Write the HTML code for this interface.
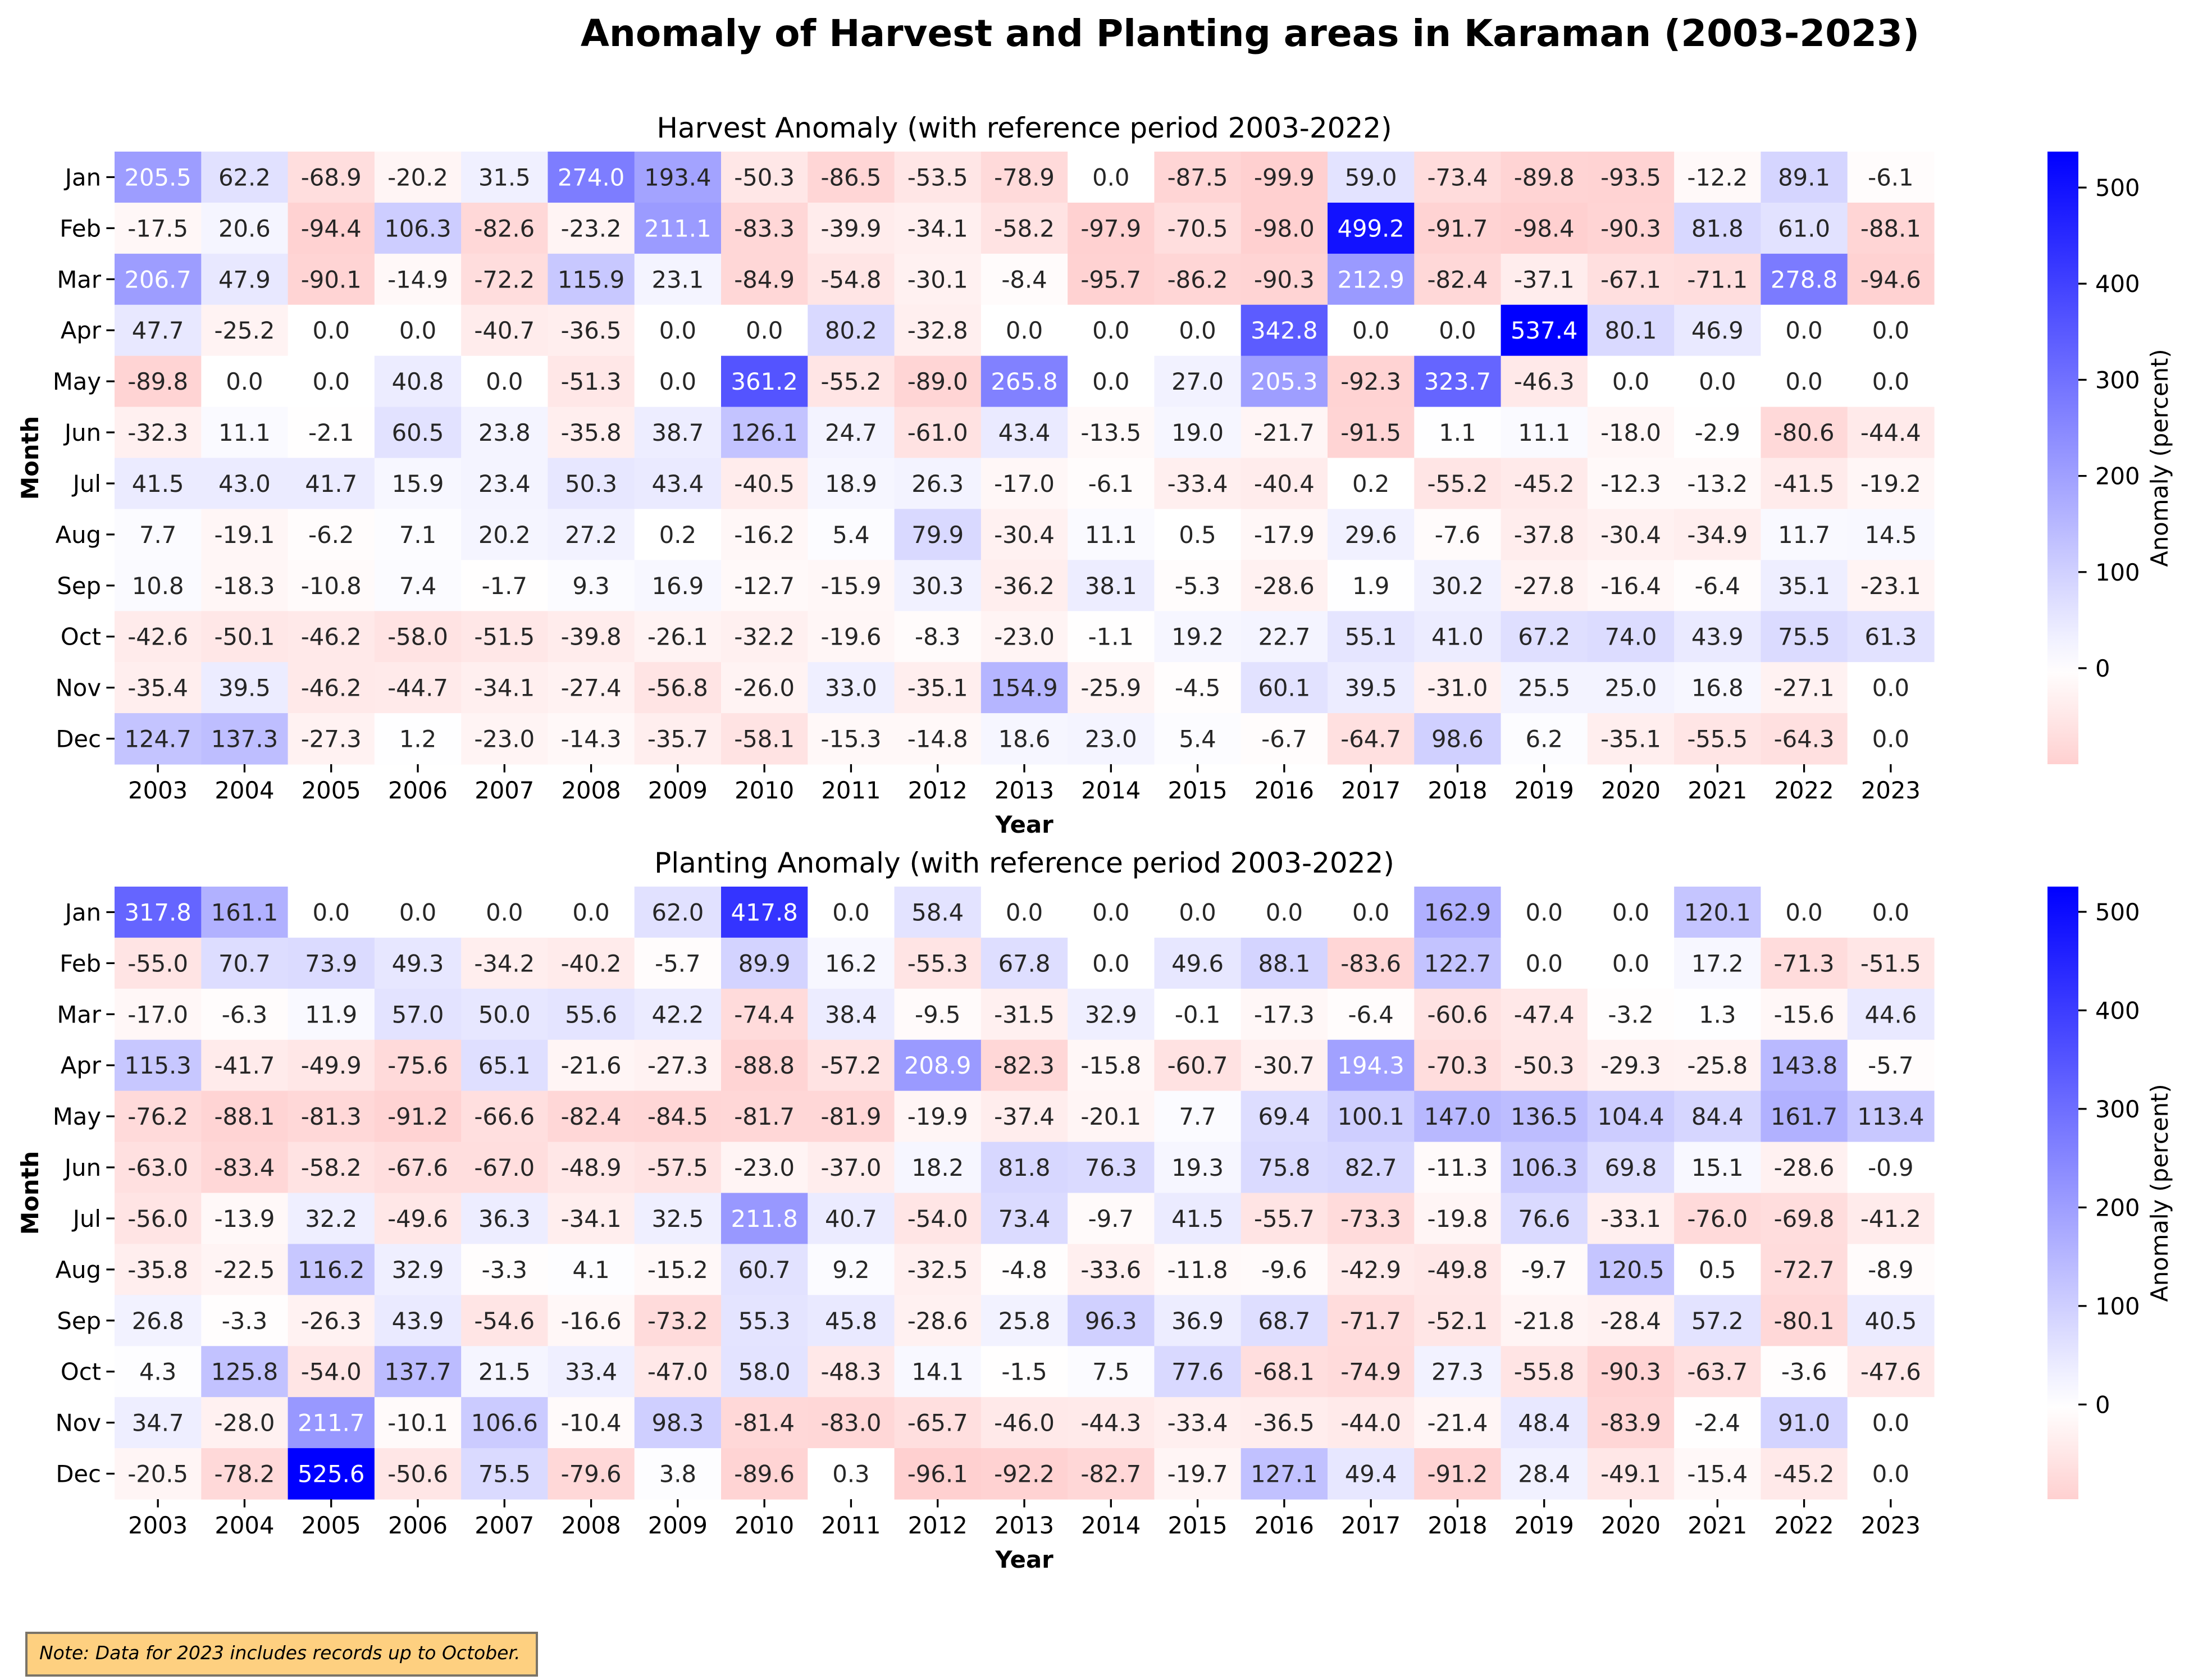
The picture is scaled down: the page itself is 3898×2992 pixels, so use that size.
<!DOCTYPE html>
<html><head><meta charset="utf-8"><style>
html,body{margin:0;padding:0;background:#fff;}
svg{display:block;font-family:"DejaVu Sans","Liberation Sans",sans-serif;}
</style></head><body>
<svg id="chart" width="3898" height="2992" viewBox="0 0 3898 2992" xmlns="http://www.w3.org/2000/svg">
<rect width="3898" height="2992" fill="#fff"/>
<text x="2226" y="82" font-size="66" font-weight="bold" text-anchor="middle">Anomaly of Harvest and Planting areas in Karaman (2003-2023)</text>
<g id="root"></g>
<g>
<rect x="47" y="2908" width="909" height="76" fill="#fed080" stroke="#7a7468" stroke-width="4"/>
<text x="70" y="2955" font-size="33" font-style="italic">Note: Data for 2023 includes records up to October.</text>
</g>
</svg>
<script>
const years = ["2003","2004","2005","2006","2007","2008","2009","2010","2011","2012","2013","2014","2015","2016","2017","2018","2019","2020","2021","2022","2023"];
const months = ["Jan","Feb","Mar","Apr","May","Jun","Jul","Aug","Sep","Oct","Nov","Dec"];
const cbTicks = [0,100,200,300,400,500];
const harvest = [
[205.5,62.2,-68.9,-20.2,31.5,274.0,193.4,-50.3,-86.5,-53.5,-78.9,0.0,-87.5,-99.9,59.0,-73.4,-89.8,-93.5,-12.2,89.1,-6.1],
[-17.5,20.6,-94.4,106.3,-82.6,-23.2,211.1,-83.3,-39.9,-34.1,-58.2,-97.9,-70.5,-98.0,499.2,-91.7,-98.4,-90.3,81.8,61.0,-88.1],
[206.7,47.9,-90.1,-14.9,-72.2,115.9,23.1,-84.9,-54.8,-30.1,-8.4,-95.7,-86.2,-90.3,212.9,-82.4,-37.1,-67.1,-71.1,278.8,-94.6],
[47.7,-25.2,0.0,0.0,-40.7,-36.5,0.0,0.0,80.2,-32.8,0.0,0.0,0.0,342.8,0.0,0.0,537.4,80.1,46.9,0.0,0.0],
[-89.8,0.0,0.0,40.8,0.0,-51.3,0.0,361.2,-55.2,-89.0,265.8,0.0,27.0,205.3,-92.3,323.7,-46.3,0.0,0.0,0.0,0.0],
[-32.3,11.1,-2.1,60.5,23.8,-35.8,38.7,126.1,24.7,-61.0,43.4,-13.5,19.0,-21.7,-91.5,1.1,11.1,-18.0,-2.9,-80.6,-44.4],
[41.5,43.0,41.7,15.9,23.4,50.3,43.4,-40.5,18.9,26.3,-17.0,-6.1,-33.4,-40.4,0.2,-55.2,-45.2,-12.3,-13.2,-41.5,-19.2],
[7.7,-19.1,-6.2,7.1,20.2,27.2,0.2,-16.2,5.4,79.9,-30.4,11.1,0.5,-17.9,29.6,-7.6,-37.8,-30.4,-34.9,11.7,14.5],
[10.8,-18.3,-10.8,7.4,-1.7,9.3,16.9,-12.7,-15.9,30.3,-36.2,38.1,-5.3,-28.6,1.9,30.2,-27.8,-16.4,-6.4,35.1,-23.1],
[-42.6,-50.1,-46.2,-58.0,-51.5,-39.8,-26.1,-32.2,-19.6,-8.3,-23.0,-1.1,19.2,22.7,55.1,41.0,67.2,74.0,43.9,75.5,61.3],
[-35.4,39.5,-46.2,-44.7,-34.1,-27.4,-56.8,-26.0,33.0,-35.1,154.9,-25.9,-4.5,60.1,39.5,-31.0,25.5,25.0,16.8,-27.1,0.0],
[124.7,137.3,-27.3,1.2,-23.0,-14.3,-35.7,-58.1,-15.3,-14.8,18.6,23.0,5.4,-6.7,-64.7,98.6,6.2,-35.1,-55.5,-64.3,0.0]];
const planting = [
[317.8,161.1,0.0,0.0,0.0,0.0,62.0,417.8,0.0,58.4,0.0,0.0,0.0,0.0,0.0,162.9,0.0,0.0,120.1,0.0,0.0],
[-55.0,70.7,73.9,49.3,-34.2,-40.2,-5.7,89.9,16.2,-55.3,67.8,0.0,49.6,88.1,-83.6,122.7,0.0,0.0,17.2,-71.3,-51.5],
[-17.0,-6.3,11.9,57.0,50.0,55.6,42.2,-74.4,38.4,-9.5,-31.5,32.9,-0.1,-17.3,-6.4,-60.6,-47.4,-3.2,1.3,-15.6,44.6],
[115.3,-41.7,-49.9,-75.6,65.1,-21.6,-27.3,-88.8,-57.2,208.9,-82.3,-15.8,-60.7,-30.7,194.3,-70.3,-50.3,-29.3,-25.8,143.8,-5.7],
[-76.2,-88.1,-81.3,-91.2,-66.6,-82.4,-84.5,-81.7,-81.9,-19.9,-37.4,-20.1,7.7,69.4,100.1,147.0,136.5,104.4,84.4,161.7,113.4],
[-63.0,-83.4,-58.2,-67.6,-67.0,-48.9,-57.5,-23.0,-37.0,18.2,81.8,76.3,19.3,75.8,82.7,-11.3,106.3,69.8,15.1,-28.6,-0.9],
[-56.0,-13.9,32.2,-49.6,36.3,-34.1,32.5,211.8,40.7,-54.0,73.4,-9.7,41.5,-55.7,-73.3,-19.8,76.6,-33.1,-76.0,-69.8,-41.2],
[-35.8,-22.5,116.2,32.9,-3.3,4.1,-15.2,60.7,9.2,-32.5,-4.8,-33.6,-11.8,-9.6,-42.9,-49.8,-9.7,120.5,0.5,-72.7,-8.9],
[26.8,-3.3,-26.3,43.9,-54.6,-16.6,-73.2,55.3,45.8,-28.6,25.8,96.3,36.9,68.7,-71.7,-52.1,-21.8,-28.4,57.2,-80.1,40.5],
[4.3,125.8,-54.0,137.7,21.5,33.4,-47.0,58.0,-48.3,14.1,-1.5,7.5,77.6,-68.1,-74.9,27.3,-55.8,-90.3,-63.7,-3.6,-47.6],
[34.7,-28.0,211.7,-10.1,106.6,-10.4,98.3,-81.4,-83.0,-65.7,-46.0,-44.3,-33.4,-36.5,-44.0,-21.4,48.4,-83.9,-2.4,91.0,0.0],
[-20.5,-78.2,525.6,-50.6,75.5,-79.6,3.8,-89.6,0.3,-96.1,-92.2,-82.7,-19.7,127.1,49.4,-91.2,28.4,-49.1,-15.4,-45.2,0.0]];

const NS="http://www.w3.org/2000/svg";
function mk(tag, attrs, parent){const e=document.createElementNS(NS,tag);for(const k in attrs)e.setAttribute(k,attrs[k]);if(parent)parent.appendChild(e);return e;}
function colorRGB(v, vr){
  if(v>=0){const t=Math.min(v/vr,1);const c=255*(1-t);return [c,c,255];}
  const t=Math.min(-v/vr,1);const c=255*(1-t);return [255,c,c];
}
function lum(rgb){const f=x=>{x/=255;return x<=0.03928?x/12.92:Math.pow((x+0.055)/1.055,2.4);};return 0.2126*f(rgb[0])+0.7152*f(rgb[1])+0.0722*f(rgb[2]);}
const root=document.getElementById('root');
const L=204,R=3444,CW=(R-L)/years.length;
function panel(data, top, title, name){
  const H=1091, CH=H/months.length;
  const g=mk('g',{},root);
  
  
  const flat=data.flat();
  const vmin=Math.min(...flat), vmax=Math.max(...flat);
  const vr=Math.max(vmax,-vmin);
  const x=i=>L+i*CW, y=j=>top+j*CH;
  const t=mk('text',{x:(L+R)/2,y:top-25,'font-size':50,'text-anchor':'middle'},g);
  t.textContent=title;
  
  
  data.forEach((row,j)=>row.forEach((v,i)=>{
    const c=colorRGB(v,vr);
    const r=mk('rect',{x:x(i),y:y(j),width:CW+0.6,height:CH+0.6,fill:`rgb(${c.map(Math.round).join(',')})`},g);
    
    
    const tx=mk('text',{x:x(i)+CW/2,y:y(j)+CH/2+15,'font-size':41.7,'text-anchor':'middle',fill:lum(c)<0.408?'#fff':'#262626'},g);
    tx.textContent=v.toFixed(1);
    
    
  }));
  months.forEach((m,j)=>{
    mk('line',{x1:L-14.6,x2:L,y1:y(j)+CH/2,y2:y(j)+CH/2,stroke:'#000','stroke-width':3.3},g);
    const tl=mk('text',{x:L-24,y:y(j)+CH/2+15,'font-size':41.7,'text-anchor':'end'},g);
    tl.textContent=m;
    
    
  });
  years.forEach((yr,i)=>{
    mk('line',{x1:x(i)+CW/2,x2:x(i)+CW/2,y1:top+H,y2:top+H+14.6,stroke:'#000','stroke-width':3.3},g);
    const tl=mk('text',{x:x(i)+CW/2,y:top+H+61,'font-size':41.7,'text-anchor':'middle'},g);
    tl.textContent=yr;
    
    
  });
  const xl=mk('text',{x:(L+R)/2,y:top+H+122,'font-size':41.7,'font-weight':'bold','text-anchor':'middle'},g);
  xl.textContent='Year';
  
  
  const yl=mk('text',{x:0,y:0,'font-size':41.7,'font-weight':'bold','text-anchor':'middle',transform:`translate(68,${top+H/2}) rotate(-90)`},g);
  yl.textContent='Month';
  
  
  const cbx=3646, cbw=55;
  const gid='grad'+name;
  const defs=mk('defs',{},g);
  const lg=mk('linearGradient',{id:gid,x1:0,y1:1,x2:0,y2:0},defs);
  for(let k=0;k<=20;k++){const v=vmin+(vmax-vmin)*k/20;const c=colorRGB(v,vr);mk('stop',{offset:k/20,'stop-color':`rgb(${c.map(Math.round).join(',')})`},lg);}
  const cb=mk('rect',{x:cbx,y:top,width:cbw,height:H,fill:`url(#${gid})`},g);
  
  
  const cy=v=>top+(vmax-v)/(vmax-vmin)*H;
  cbTicks.forEach(v=>{
    mk('line',{x1:cbx+cbw,x2:cbx+cbw+14.6,y1:cy(v),y2:cy(v),stroke:'#000','stroke-width':3.3},g);
    const tl=mk('text',{x:cbx+cbw+30,y:cy(v)+15,'font-size':41.7},g);
    tl.textContent=String(v);
    
    
  });
  const cl=mk('text',{x:0,y:0,'font-size':41.7,'text-anchor':'middle',transform:`translate(3860,${top+H/2}) rotate(-90)`},g);
  cl.textContent='Anomaly (percent)';
  
  
}
panel(harvest,270,'Harvest Anomaly (with reference period 2003-2022)','harvest-heatmap');
panel(planting,1579,'Planting Anomaly (with reference period 2003-2022)','planting-heatmap');
</script>
</body></html>
